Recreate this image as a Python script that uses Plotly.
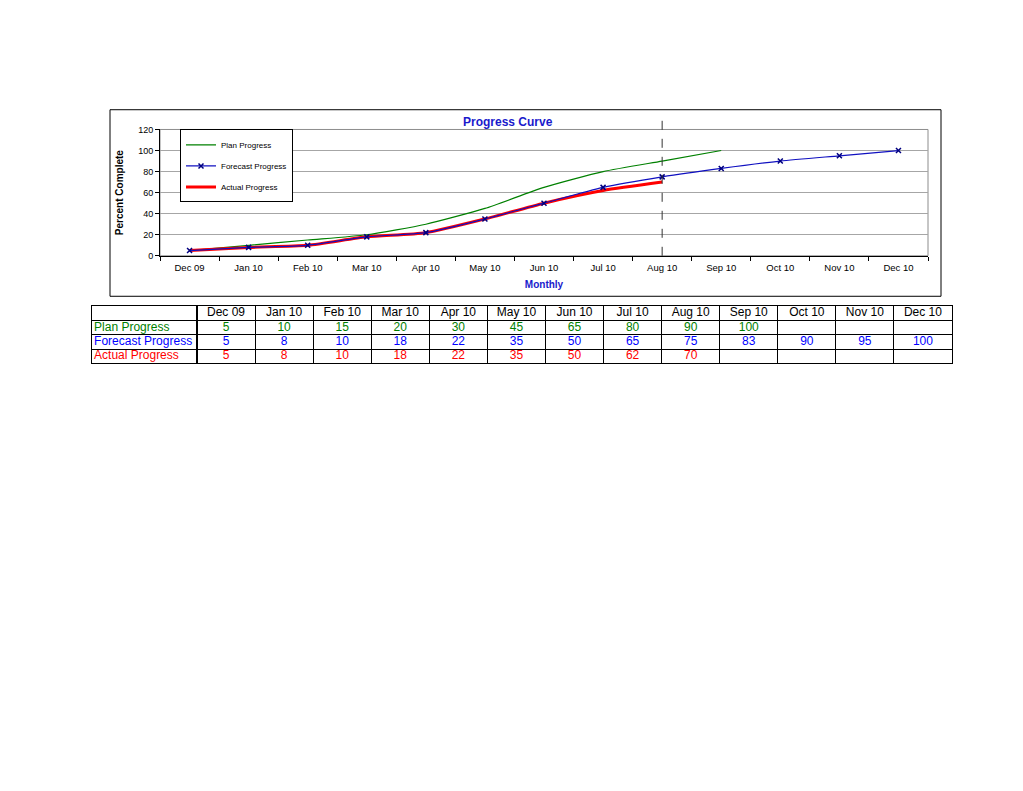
import plotly.graph_objects as go

# page has a default body margin, so work in screen pixels and shift
OX, OY = 8, 10
W, H = 1023 - 2 * OX, 791 - 2 * OY

months = ['Dec 09', 'Jan 10', 'Feb 10', 'Mar 10', 'Apr 10', 'May 10', 'Jun 10',
          'Jul 10', 'Aug 10', 'Sep 10', 'Oct 10', 'Nov 10', 'Dec 10']
plan = [5, 10, 15, 20, 30, 45, 65, 80, 90, 100, None, None, None]
forecast = [5, 8, 10, 18, 22, 35, 50, 65, 75, 83, 90, 95, 100]
actual = [5, 8, 10, 18, 22, 35, 50, 62, 70, None, None, None, None]
status_month = 'Aug 10'

row_names = ['Plan Progress', 'Forecast Progress', 'Actual Progress']
table_rows = ['header'] + row_names

GREEN = '#008000'
BLUE = '#0000FF'
NAVY = '#000080'
RED = '#FF0000'
FONT = 'Liberation Sans, Arial, Helvetica, sans-serif'


def px(x):
    return (x - OX) / W


def py(y):
    return 1 - (y - OY) / H


fig = go.Figure()

fig.add_trace(go.Scatter(x=months, y=plan, name='Plan Progress', mode='lines',
                         line=dict(color=GREEN, width=1.2, shape='spline', smoothing=0.6),
                         legendgroup='a', legendrank=1))
fig.add_trace(go.Scatter(x=months, y=actual, name='Actual Progress', mode='lines',
                         line=dict(color=RED, width=3, shape='spline', smoothing=0.6),
                         legendgroup='c', legendrank=3))
fig.add_trace(go.Scatter(x=months, y=forecast, name='Forecast Progress', mode='lines+markers',
                         line=dict(color='#1010C0', width=1.2, shape='spline', smoothing=0.6),
                         marker=dict(symbol='x-thin', size=5, color=NAVY,
                                     line=dict(color=NAVY, width=1.5)),
                         legendgroup='b', legendrank=2))

# data table: drawn on its own category axes, gridlines = cell borders
fig.add_trace(go.Scatter(x=[0] * 3, y=row_names, text=row_names, mode='text',
                         textposition='middle right', xaxis='x2', yaxis='y2',
                         textfont=dict(size=12, color=[GREEN, BLUE, RED]),
                         showlegend=False, hoverinfo='skip'))
fig.add_trace(go.Scatter(x=months, y=['header'] * len(months), text=months, mode='text',
                         xaxis='x3', yaxis='y2', textfont=dict(size=12, color='black'),
                         showlegend=False, hoverinfo='skip'))
for name, vals, col in zip(row_names, [plan, forecast, actual], [GREEN, BLUE, RED]):
    fig.add_trace(go.Scatter(x=months, y=[name] * len(months), mode='text',
                             text=['' if v is None else str(v) for v in vals],
                             xaxis='x3', yaxis='y2', textfont=dict(size=12, color=col),
                             showlegend=False, hoverinfo='skip'))

table_axis = dict(showline=True, linecolor='black', linewidth=1, mirror='all',
                  showticklabels=False, ticks='', zeroline=False, fixedrange=True)

fig.update_layout(
    width=W, height=H,
    margin=dict(l=0, r=0, t=0, b=0),
    paper_bgcolor='white', plot_bgcolor='white',
    font=dict(family=FONT, size=9, color='black'),
    showlegend=True,
    legend=dict(x=px(180), y=py(128), xanchor='left', yanchor='top',
                bordercolor='black', borderwidth=1, bgcolor='white',
                font=dict(size=8), tracegroupgap=2, itemwidth=30),
    xaxis=dict(domain=[px(160), px(928)], type='category', categoryarray=months,
               range=[-0.5, 12.5], tickson='boundaries', ticks='outside', ticklen=4,
               tickcolor='black', showline=True, linecolor='black', linewidth=1,
               showgrid=False, fixedrange=True, ticklabelstandoff=3, dtick=1,
               tickfont=dict(size=9.5),
               title=dict(text='<b>Monthly</b>', standoff=8,
                          font=dict(color='#1a1acc', size=10))),
    yaxis=dict(domain=[py(256), py(128)], range=[0, 120], dtick=20, ticks='outside',
               ticklen=4, tickcolor='black', showline=True, linecolor='black', linewidth=1,
               showgrid=True, gridcolor='#a6a6a6', gridwidth=1, zeroline=False,
               fixedrange=True,
               title=dict(text='<b>Percent Complete</b>', standoff=12,
                          font=dict(size=10))),
    xaxis2=dict(table_axis, domain=[px(92), px(197)], range=[-0.02, 0.98], showgrid=False,
                anchor='y2'),
    xaxis3=dict(table_axis, domain=[px(197), px(952)], type='category',
                categoryarray=months, range=[-0.5, 12.5], tickson='boundaries', dtick=1,
                showgrid=True, gridcolor='black', gridwidth=1, anchor='y2'),
    yaxis2=dict(table_axis, domain=[py(365), py(307)], type='category',
                categoryarray=table_rows, range=[3.5, -0.5], tickson='boundaries', dtick=1,
                showgrid=True, gridcolor='black', gridwidth=1, anchor='x2'),
    shapes=[
        dict(type='rect', xref='paper', yref='paper', x0=px(110), x1=px(941),
             y0=py(297), y1=py(108), line=dict(color='black', width=1)),
        dict(type='rect', xref='x domain', yref='y domain', x0=0, x1=1, y0=0, y1=1,
             line=dict(color='#8c8c8c', width=1), layer='below'),
        dict(type='line', xref='x', yref='paper', x0=status_month, x1=status_month,
             y0=py(256), y1=py(115), line=dict(color='#333333', width=1, dash='dash')),
    ],
    annotations=[
        dict(text='<b>Progress Curve</b>', xref='paper', yref='paper', x=px(508), y=py(120),
             xanchor='center', yanchor='middle', showarrow=False,
             font=dict(size=12, color='#1a1acc')),
    ],
)

fig.write_html('out.html')
